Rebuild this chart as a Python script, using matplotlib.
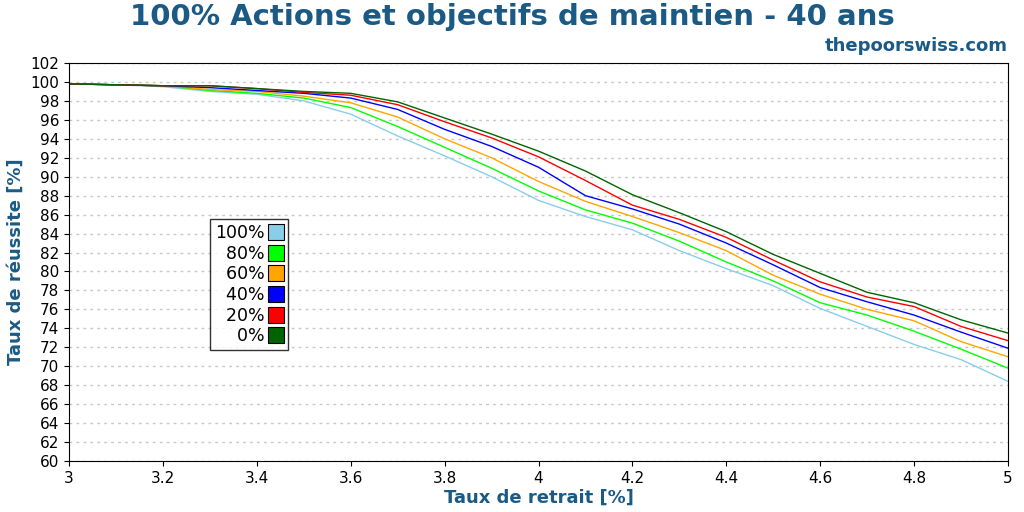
import matplotlib
matplotlib.use("Agg")
import matplotlib.pyplot as plt
from matplotlib.lines import Line2D

x = [3.0,3.1,3.2,3.3,3.4,3.5,3.6,3.7,3.8,3.9,4.0,4.1,4.2,4.3,4.4,4.5,4.6,4.7,4.8,4.9,5.0]
s0   = [99.8,99.7,99.6,99.6,99.3,99.0,98.8,97.9,96.2,94.5,92.7,90.6,88.1,86.2,84.2,81.8,79.8,77.8,76.7,74.9,73.5]
s20  = [99.8,99.7,99.6,99.6,99.3,98.9,98.6,97.6,95.8,94.1,92.1,89.6,87.0,85.5,83.6,81.2,78.9,77.3,76.3,74.2,72.7]
s40  = [99.8,99.7,99.6,99.4,99.1,98.8,98.3,97.1,95.0,93.2,91.0,88.0,86.6,85.0,83.0,80.7,78.3,76.8,75.4,73.6,71.9]
s60  = [99.8,99.7,99.6,99.2,99.0,98.5,97.8,96.3,94.0,92.0,89.5,87.4,85.8,84.1,82.2,79.6,77.6,76.0,74.8,72.6,71.0]
s80  = [99.8,99.7,99.6,99.1,98.8,98.3,97.3,95.3,93.1,90.9,88.5,86.5,85.1,83.2,81.0,79.0,76.7,75.4,73.7,71.8,69.8]
s100 = [99.8,99.7,99.5,99.0,98.7,98.0,96.6,94.3,92.2,90.0,87.5,85.8,84.4,82.2,80.3,78.5,76.1,74.2,72.3,70.7,68.4]

labels = ["100%","80%","60%","40%","20%","0%"]
series = [s100,s80,s60,s40,s20,s0]
colors = ["#87ceeb","#00ff00","#ffa500","#0000ff","#ff0000","#006400"]

blue = "#1a5a85"
fig = plt.figure(figsize=(10.24,5.12), dpi=100)
ax = fig.add_axes([69/1024, 1-461/512, (1008-69)/1024, (461-63)/512])
for s,c in zip(series,colors):
    ax.plot(x, s, color=c, lw=1)
ax.set_xlim(3,5)
ax.set_ylim(60,102)
ax.set_xticks([3,3.2,3.4,3.6,3.8,4,4.2,4.4,4.6,4.8,5])
ax.set_xticklabels(["3","3.2","3.4","3.6","3.8","4","4.2","4.4","4.6","4.8","5"])
ax.set_yticks(range(60,103,2))
ax.tick_params(labelsize=11)
ax.grid(axis='y', ls=(0,(2,3)), color='#c8c8c8', lw=1)
ax.set_xlabel("Taux de retrait [%]", fontsize=13, fontweight='bold', color=blue, labelpad=2)
ax.set_ylabel("Taux de réussite [%]", fontsize=13, fontweight='bold', color=blue)
handles = [Line2D([],[],ls='none',marker='s',markersize=11,markerfacecolor=c,markeredgecolor='black',markeredgewidth=0.8) for c in colors]
padded = [l.rjust(4, "\u2007") for l in labels]
leg = ax.legend(handles, padded, loc='upper left', bbox_to_anchor=(141/939, 1-(219-63)/398), markerfirst=False,
                fontsize=12.5, frameon=True, fancybox=False, edgecolor='black', handlelength=0.7,
                handletextpad=0.3, labelspacing=0.15, borderpad=0.3, borderaxespad=0)
leg.get_frame().set_linewidth(1)
fig.text(0.5, 0.967, "100% Actions et objectifs de maintien - 40 ans", ha='center', va='center',
         fontsize=21, fontweight='bold', color=blue)
fig.text(1008/1024, 0.91, "thepoorswiss.com", ha='right', va='center', fontsize=13, fontweight='bold', color=blue)
fig.savefig("out.png", dpi=100)
